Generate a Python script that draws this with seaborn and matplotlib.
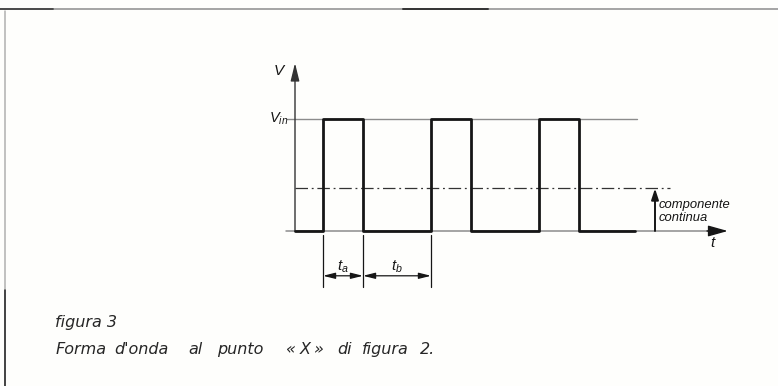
import matplotlib
matplotlib.use("Agg")
import matplotlib.pyplot as plt
import seaborn as sns
import pandas as pd

# ---------------- data ----------------
wave_t = [0, 7, 17, 34, 44, 61, 71, 85]       # transition times (steps-post)
wave_v = [0, 1, 0, 1, 0, 1, 0, 0]             # levels (units of V_in)
v_in = 1.0
dc_level = 0.38                               # componente continua
dim_t = [7, 17, 34]                           # t_a = 7..17, t_b = 17..34
dim_labels = [r"$t_a$", r"$t_b$"]
y_label = "V"
level_label = r"$V_{in}$"
x_label = "t"
dc_label = ["componente", "continua"]
caption_title = "figura 3"
caption_words = ["Forma", "d'onda", "al", "punto", "«", "X", "»", "di", "figura", "2."]

# ---------------- style ----------------
sns.set_theme(style="white")
plt.rcParams["font.family"] = ["Liberation Sans", "DejaVu Sans"]
plt.rcParams["mathtext.fontset"] = "custom"
plt.rcParams["mathtext.it"] = "Liberation Sans:italic"
plt.rcParams["mathtext.rm"] = "Liberation Sans"

INK = "#161616"
GREY = "#8c8c8c"
BG = "#fefefc"

fig = plt.figure(figsize=(7.78, 3.86), dpi=100, facecolor=BG)
ax = fig.add_axes([0, 0, 1, 1])
ax.set_facecolor(BG)
ax.set_xlim(-73.75, 120.75)
ax.set_ylim(-1.384, 2.0625)
ax.axis("off")

# reference lines
ax.plot([-2, 85.5], [v_in, v_in], color=GREY, lw=1.0, zorder=1)
ax.plot([-2.2, 106], [0, 0], color=GREY, lw=1.1, zorder=1)
# time axis arrow head
ax.annotate("", xy=(108.2, 0), xytext=(103, 0),
            arrowprops=dict(arrowstyle="-|>,head_length=1.0,head_width=0.28",
                            color=INK, lw=1.0, shrinkA=0, shrinkB=0))
# voltage axis
ax.annotate("", xy=(0, 1.5), xytext=(0, 0),
            arrowprops=dict(arrowstyle="-|>,head_length=0.9,head_width=0.22",
                            color="#333333", lw=1.0, shrinkA=0, shrinkB=0))

# waveform
df = pd.DataFrame({"t": wave_t, "v": wave_v})
sns.lineplot(data=df, x="t", y="v", drawstyle="steps-post", estimator=None,
             color=INK, lw=2.0, ax=ax, zorder=3)

# DC component (dash-dot)
ax.plot([0, 93.75], [dc_level, dc_level], color="#333333", lw=0.9,
        linestyle=(0, (10, 3, 1.5, 3)), zorder=2)
ax.annotate("", xy=(90, dc_level), xytext=(90, 0),
            arrowprops=dict(arrowstyle="-|>,head_length=0.55,head_width=0.18",
                            color=INK, lw=1.4, shrinkA=0, shrinkB=0))
ax.text(91, 0.205, dc_label[0], fontsize=9.4, style="italic", color=INK, va="baseline")
ax.text(91, 0.09, dc_label[1], fontsize=9.4, style="italic", color=INK, va="baseline")

# labels
ax.text(-4, 1.43, y_label, fontsize=11, style="italic", color=INK, ha="center", va="center")
ax.text(-1.8, 1.0, level_label, fontsize=10.5, color=INK, ha="right", va="center")
ax.text(104.3, -0.11, x_label, fontsize=11, style="italic", color=INK, ha="center", va="center")

# dimension lines
for td in dim_t:
    ax.plot([td, td], [-0.036, -0.5], color=INK, lw=0.9, zorder=2)
for i in range(len(dim_t) - 1):
    ax.annotate("", xy=(dim_t[i], -0.40), xytext=(dim_t[i + 1], -0.40),
                arrowprops=dict(arrowstyle="<|-|>,head_length=0.6,head_width=0.15",
                                color=INK, lw=0.9, shrinkA=0, shrinkB=0))
    ax.text((dim_t[i] + dim_t[i + 1]) / 2, -0.32, dim_labels[i], fontsize=11,
            color=INK, ha="center", va="center")

# frame lines of the page (axes-fraction coordinates)
tr = ax.transAxes
ax.plot([0, 1], [1 - 8.5 / 386, 1 - 8.5 / 386], transform=tr, color=GREY, lw=1.1)
ax.plot([0, 53 / 778], [1 - 8.5 / 386] * 2, transform=tr, color="#444444", lw=1.3)
ax.plot([403 / 778, 488 / 778], [1 - 8.5 / 386] * 2, transform=tr, color="#333333", lw=1.4)
ax.plot([5.3 / 778] * 2, [0, 1 - 11 / 386], transform=tr, color="#b0b0b0", lw=1.1)
ax.plot([5.3 / 778] * 2, [0, 1 - 290 / 386], transform=tr, color="#222222", lw=1.1)

# caption
cap_font = dict(fontsize=11.5, style="italic", color="#262626", va="baseline",
                family=["DejaVu Sans"], transform=tr)
ax.text(55 / 778, 1 - 327 / 386, caption_title, **cap_font)
word_x = [56, 114, 188, 217, 286, 300, 314, 337, 362, 420]
for w, x in zip(caption_words, word_x):
    ax.text(x / 778, 1 - 354 / 386, w, **cap_font)

fig.savefig("out.png", dpi=100, facecolor=BG)
